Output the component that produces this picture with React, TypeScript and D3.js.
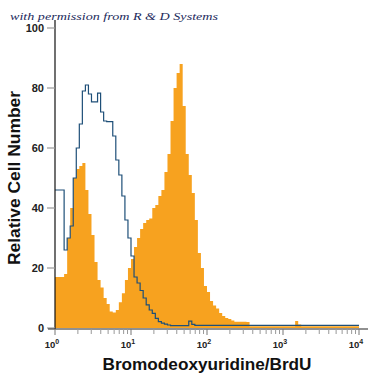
import React from "react";
import * as d3 from "d3";

// Histogram channels: 100 bins, each 0.04 decade wide, from 10^0 to 10^4
const binWidthDecades = 0.04;
const brduCounts = [
  17, 17, 17, 18, 30, 40, 50, 53, 54, 55,
  46, 38, 31, 22, 16, 13.5, 10, 8, 5.5, 5.2,
  6, 8.6, 11.6, 16, 20, 23, 27, 30, 33, 35,
  36, 36.5, 40, 41, 44, 46, 52, 58, 69, 80,
  85, 88, 74, 58, 51, 45, 36, 25, 20, 14,
  12, 9, 7.5, 6.5, 5, 4, 3.3, 3, 2.5, 2.1,
  2.1, 2.1, 2.1, 2.0, 0.6, 0.6, 0.6, 0.6, 0.6, 0.6,
  0.6, 0.6, 0.6, 0.6, 0.6, 0.6, 0.6, 0.6, 0.6, 2.3,
  1.2, 0.6, 0.6, 0.6, 0.6, 0.6, 0.6, 0.6, 0.6, 0.6,
  0.6, 0.6, 0.6, 0.6, 0.6, 0.6, 0.6, 0.6, 0.6, 0.6,
];
const isotypeCounts = [
  46, 46, 46, 26, 30, 34, 50, 60, 68, 79,
  81, 78, 75.4, 75.4, 78.3, 72, 69, 68.8, 68.8, 64,
  56, 51, 44, 36, 30, 24, 17, 15, 12.5, 10,
  7.7, 6, 4.9, 3.2, 2.1, 1.6, 1.3, 1, 0.8, 0.8,
  0.8, 0.8, 0.8, 0.8, 2.3, 1.2, 0.9, 0.9, 0.9, 0.9,
  0.9, 0.9, 0.9, 0.9, 0.9, 0.9, 0.9, 0.9, 0.9, 0.9,
  0.9, 0.9, 0.9, 0.9, 0.9, 0.9, 0.9, 0.9, 0.9, 0.9,
  0.9, 0.9, 0.9, 0.9, 0.9, 0.9, 0.9, 0.9, 0.9, 0.9,
  0.9, 0.9, 0.9, 0.9, 0.9, 0.9, 0.9, 0.9, 0.9, 0.9,
  0.9, 0.9, 0.9, 0.9, 0.9, 0.9, 0.9, 0.9, 0.9, 0.9,
];
const yTicks = [0, 20, 40, 60, 80, 100];
const xDecades = [0, 1, 2, 3, 4];
const minorMultipliers = [2, 3, 4, 5, 6, 7, 8, 9];
const xTitle = "Bromodeoxyuridine/BrdU";
const yTitle = "Relative Cell Number";
const watermark = "with permission from R & D Systems";

const ORANGE = "#f7a21f";
const BLUE = "#1e4f78";

export default function App() {
  const x = d3.scaleLog().domain([1, 1e4]).range([55, 359]);
  const y = d3.scaleLinear().domain([0, 100]).range([328, 28]);

  const toPoints = (counts: number[]) => {
    const pts = counts.map((c, i) => ({ e: Math.pow(10, i * binWidthDecades), v: c }));
    pts.push({ e: Math.pow(10, counts.length * binWidthDecades), v: counts[counts.length - 1] });
    return pts;
  };

  const area = d3
    .area<{ e: number; v: number }>()
    .x((d) => x(d.e))
    .y0(y(0))
    .y1((d) => y(d.v))
    .curve(d3.curveStepAfter);
  const line = d3
    .line<{ e: number; v: number }>()
    .x((d) => x(d.e))
    .y((d) => y(d.v))
    .curve(d3.curveStepAfter);

  const minorTicks: number[] = [];
  xDecades.slice(0, -1).forEach((dec) =>
    minorMultipliers.forEach((m) => minorTicks.push(m * Math.pow(10, dec)))
  );

  const axisY = 329;
  return (
    <svg
      width={375}
      height={375}
      style={{ position: "absolute", left: 0, top: 0, background: "#fff" }}
      fontFamily="'Liberation Sans', Arial, sans-serif"
    >
      <rect width={375} height={375} fill="#fff" />
      <path d={area(toPoints(brduCounts)) || ""} fill={ORANGE} />
      <path d={line(toPoints(isotypeCounts)) || ""} fill="none" stroke={BLUE} strokeWidth={1.2} />

      {/* y axis */}
      <line x1={55} x2={55} y1={20} y2={axisY} stroke="#111" strokeWidth={1.2} />
      {yTicks.map((t) => (
        <g key={t}>
          <line x1={47} x2={55} y1={y(t)} y2={y(t)} stroke="#999" strokeWidth={1.2} />
          <text x={44} y={y(t) + 4} textAnchor="end" fontSize={11} fontWeight="bold" fill="#222">
            {t}
          </text>
        </g>
      ))}

      {/* x axis */}
      <line x1={48} x2={368} y1={axisY} y2={axisY} stroke="#222" strokeWidth={1.2} />
      {minorTicks.map((t, i) => (
        <line key={i} x1={x(t)} x2={x(t)} y1={axisY} y2={axisY + 5} stroke="#999" strokeWidth={1} />
      ))}
      {xDecades.map((d) => (
        <g key={d}>
          <line
            x1={x(Math.pow(10, d))}
            x2={x(Math.pow(10, d))}
            y1={axisY}
            y2={axisY + 6}
            stroke="#777"
            strokeWidth={1}
          />
          <text x={x(Math.pow(10, d)) - 3} y={348} textAnchor="middle" fontSize={9.5} fontWeight="bold" fill="#222">
            10
            <tspan dy={-4} fontSize={7}>
              {d}
            </tspan>
          </text>
        </g>
      ))}

      <text
        x={207}
        y={370}
        textAnchor="middle"
        fontSize={17}
        fontWeight="bold"
        fill="#111"
        textLength={209}
        lengthAdjust="spacingAndGlyphs"
      >
        {xTitle}
      </text>
      <text
        transform="translate(20,178) rotate(-90)"
        textAnchor="middle"
        fontSize={17}
        fontWeight="bold"
        fill="#111"
        textLength={174}
        lengthAdjust="spacingAndGlyphs"
      >
        {yTitle}
      </text>
      <text
        x={10}
        y={20}
        fontFamily="'Liberation Serif', 'DejaVu Serif', serif"
        fontStyle="italic"
        fontSize={11}
        fill="#1c2a5c"
        textLength={208}
        lengthAdjust="spacingAndGlyphs"
      >
        {watermark}
      </text>
    </svg>
  );
}
